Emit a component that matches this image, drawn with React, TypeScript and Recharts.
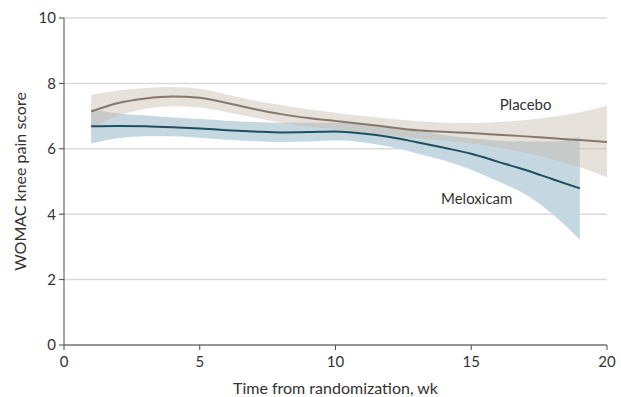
import { ComposedChart, Area, Line, XAxis, YAxis, CartesianGrid, ReferenceDot } from 'recharts';

const weeks = [1, 2, 3, 4, 5, 6, 7, 8, 9, 10, 11, 12, 13, 14, 15, 16, 17, 18, 19, 20];

const placeboMean = [7.14, 7.4, 7.54, 7.6, 7.56, 7.4, 7.22, 7.06, 6.94, 6.85, 6.76, 6.66, 6.57, 6.52, 6.48, 6.43, 6.38, 6.32, 6.27, 6.21];
const placeboUpper = [7.65, 7.78, 7.86, 7.89, 7.84, 7.66, 7.48, 7.34, 7.21, 7.1, 7.0, 6.92, 6.85, 6.8, 6.79, 6.82, 6.88, 6.98, 7.12, 7.32];
const placeboLower = [6.64, 7.02, 7.22, 7.3, 7.26, 7.12, 6.96, 6.8, 6.68, 6.6, 6.52, 6.42, 6.32, 6.25, 6.17, 6.04, 5.88, 5.68, 5.44, 5.12];

// meloxicam curve stops at week 19
const meloxicamMean = [6.69, 6.7, 6.69, 6.66, 6.62, 6.57, 6.53, 6.5, 6.51, 6.53, 6.47, 6.36, 6.2, 6.03, 5.85, 5.6, 5.35, 5.07, 4.79];
const meloxicamUpper = [7.22, 7.08, 7.02, 6.96, 6.91, 6.86, 6.82, 6.8, 6.8, 6.8, 6.75, 6.68, 6.55, 6.42, 6.32, 6.25, 6.22, 6.22, 6.36];
const meloxicamLower = [6.16, 6.32, 6.38, 6.38, 6.34, 6.28, 6.24, 6.21, 6.22, 6.26, 6.2, 6.06, 5.86, 5.64, 5.36, 5.0, 4.6, 4.0, 3.22];

const xTicks = [0, 5, 10, 15, 20];
const yTicks = [0, 2, 4, 6, 8, 10];

const data = weeks.map((week, i) => ({
  week,
  placebo: placeboMean[i],
  placeboBand: [placeboLower[i], placeboUpper[i]],
  meloxicam: i < meloxicamMean.length ? meloxicamMean[i] : null,
  meloxicamBand: i < meloxicamMean.length ? [meloxicamLower[i], meloxicamUpper[i]] : null,
}));

const font = 'Lato, "Liberation Sans", sans-serif';
const axisColor = '#4a4a4a';
const textColor = '#333';

export default function App() {
  return (
    <div style={{ position: 'absolute', left: 0, top: 0, background: '#fff' }}>
      <ComposedChart width={621} height={397} data={data} margin={{ top: 18, right: 14, bottom: 0, left: 0 }}>
        <CartesianGrid vertical={false} stroke="#dadada" strokeWidth={1.5} />
        <XAxis
          dataKey="week"
          type="number"
          domain={[0, 20]}
          ticks={xTicks}
          height={52}
          tickSize={5}
          tickMargin={6}
          axisLine={{ stroke: axisColor }}
          tickLine={{ stroke: axisColor }}
          tick={{ fontSize: 15, fill: textColor, fontFamily: font }}
          label={{ value: 'Time from randomization, wk', position: 'insideBottom', offset: 3, fontSize: 16, fill: textColor, fontFamily: font }}
        />
        <YAxis
          type="number"
          domain={[0, 10]}
          ticks={yTicks}
          width={64}
          tickSize={5}
          tickMargin={3}
          axisLine={{ stroke: axisColor }}
          tickLine={{ stroke: axisColor }}
          tick={{ fontSize: 15, fill: textColor, fontFamily: font }}
          label={{ value: 'WOMAC knee pain score', angle: -90, position: 'insideLeft', offset: 20, fontSize: 16, fill: textColor, fontFamily: font, style: { textAnchor: 'middle' } }}
        />
        <Area dataKey="meloxicamBand" type="monotone" stroke="none" fill="#c5d7e0" fillOpacity={1} isAnimationActive={false} />
        <Area dataKey="placeboBand" type="monotone" stroke="none" fill="#c8bcae" fillOpacity={0.45} isAnimationActive={false} />
        <Line dataKey="placebo" type="monotone" stroke="#87786b" strokeWidth={2} dot={false} isAnimationActive={false} />
        <Line dataKey="meloxicam" type="monotone" stroke="#1f4e60" strokeWidth={2} dot={false} isAnimationActive={false} />
        <ReferenceDot x={17} y={7.35} r={0} label={{ value: 'Placebo', position: 'center', fontSize: 15, fill: textColor, fontFamily: font }} />
        <ReferenceDot x={15.2} y={4.48} r={0} label={{ value: 'Meloxicam', position: 'center', fontSize: 15, fill: textColor, fontFamily: font }} />
      </ComposedChart>
    </div>
  );
}
